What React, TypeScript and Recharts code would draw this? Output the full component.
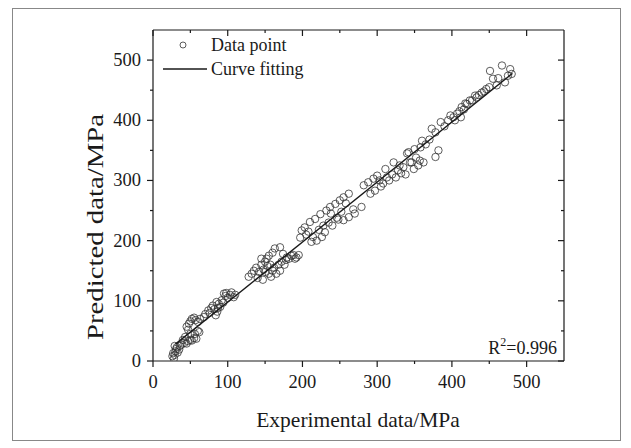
import React from 'react';
import { ScatterChart, Scatter, XAxis, YAxis, Legend, Customized } from 'recharts';

// experimental (x) vs predicted (y) strength, MPa
const expData = [
  26, 27, 28, 29, 30, 31, 29, 32, 33, 35, 36, 38,
  42, 45, 47, 50, 52, 55, 58, 56, 60, 62,
  45, 48, 50, 52, 55, 57, 60, 63, 47, 40, 43, 50,
  68, 70, 74, 76, 80, 82, 84, 86, 87, 88, 90, 92, 94, 95, 97, 98, 100, 103, 105, 108, 110, 78, 85,
  128, 132, 135, 138, 140, 142, 145, 147, 148, 150, 152, 153, 155, 155, 157, 158, 160, 162, 163, 165,
  168, 170, 170, 172, 174, 176, 178, 179, 182, 185, 188, 190, 192, 195, 145, 160, 150,
  197, 199, 203, 205, 208, 210, 212, 214, 217, 219, 222, 224, 226, 228, 230, 232, 235, 237, 240, 244,
  246, 250, 252, 255, 258, 262, 248, 238,
  255, 262, 270, 279, 268,
  282, 288, 291, 295, 297, 300, 303, 305, 308, 311, 313, 316, 320, 322, 325, 328, 330, 332, 335, 338,
  340, 342, 344, 346, 349, 352, 355, 357, 360, 362, 358, 350,
  378, 382,
  365, 370, 373, 378, 385, 390, 395, 398, 402, 404, 407, 410, 412, 413, 416, 418, 420, 424, 427, 431,
  433, 436, 440, 443, 446, 450, 455, 451, 460, 462, 467, 471, 475, 478, 480,
];
const predData = [
  8, 13, 4, 10, 16, 20, 25, 23, 14, 19, 25, 27,
  30, 29, 33, 35, 34, 38, 37, 45, 50, 48,
  57, 62, 66, 70, 72, 68, 65, 70, 52, 35, 40, 45,
  73, 78, 84, 80, 92, 86, 76, 82, 88, 95, 90, 101, 97, 112, 108, 113, 105, 110, 114, 106, 110, 88, 98,
  140, 145, 150, 155, 138, 148, 160, 135, 152, 165, 170, 158, 175, 145, 160, 140, 150, 155, 187, 145,
  160, 189, 150, 165, 178, 160, 168, 172, 170, 175, 176, 170, 172, 176, 170, 180, 148,
  205, 217, 222, 210, 215, 231, 198, 206, 236, 200, 218, 244, 206, 225, 214, 250, 230, 256, 225, 261,
  238, 267, 248, 272, 262, 278, 235, 245,
  234, 239, 245, 256, 252,
  292, 297, 278, 303, 283, 308, 300, 290, 295, 319, 305, 300, 310, 330, 305, 317, 325, 312, 322, 310,
  345, 347, 330, 330, 319, 338, 325, 333, 366, 330, 355, 352,
  339, 350,
  360, 368, 386, 380, 397, 390, 400, 408, 405, 400, 411, 415, 405, 422, 418, 428, 427, 433, 433, 441,
  438, 442, 446, 448, 452, 455, 469, 482, 458, 470, 491, 463, 474, 485, 477,
];

// fitted line end points
const fitX = [30, 481];
const fitY = [28, 478];

const axisTicks = [0, 50, 100, 150, 200, 250, 300, 350, 400, 450, 500];

const points = expData.map((x, i) => ({ x, y: predData[i] }));
const fitLine = fitX.map((x, i) => ({ x, y: fitY[i] }));

const FONT = '"Liberation Serif", "Times New Roman", serif';
const INK = '#1a1a1a';

const makeTick = (side: string) => (props: any) => {
  const { x, y, payload } = props;
  const v = payload.value;
  const major = v % 100 === 0;
  const len = major ? 6 : 3;
  if (side === 'bottom') {
    return (
      <g>
        <line x1={x} x2={x} y1={y} y2={y + len} stroke={INK} strokeWidth={1.2} />
        {major && (
          <text x={x} y={y + 27} textAnchor="middle" fontSize={18.5} fontFamily={FONT} fill={INK}>
            {v}
          </text>
        )}
      </g>
    );
  }
  if (side === 'left') {
    return (
      <g>
        <line x1={x} x2={x - len} y1={y} y2={y} stroke={INK} strokeWidth={1.2} />
        {major && (
          <text x={x - 12} y={y + 6} textAnchor="end" fontSize={18.5} fontFamily={FONT} fill={INK}>
            {v}
          </text>
        )}
      </g>
    );
  }
  if (side === 'top') {
    return <line x1={x} x2={x} y1={y} y2={y + len} stroke={INK} strokeWidth={1.2} />;
  }
  return <line x1={x} x2={x - len} y1={y} y2={y} stroke={INK} strokeWidth={1.2} />;
};

const OpenCircle = (props: any) => (
  <circle cx={props.cx} cy={props.cy} r={3.7} fill="none" stroke="#333" strokeWidth={0.8} />
);

const LegendBox = () => (
  <div style={{ position: 'relative', height: 0 }}>
    <svg width={160} height={90} style={{ position: 'absolute', left: 155, top: 25, overflow: 'visible' }}>
      <circle cx={28} cy={20} r={3} fill="none" stroke="#333" strokeWidth={0.8} />
      <text x={56} y={26} fontSize={18} fontFamily={FONT} fill={INK}>Data point</text>
      <line x1={8} x2={52} y1={44} y2={44} stroke={INK} strokeWidth={1.4} />
      <text x={56} y={50} fontSize={18} fontFamily={FONT} fill={INK}>Curve fitting</text>
    </svg>
  </div>
);

const Labels = () => (
  <g fontFamily={FONT} fill={INK}>
    <text x={358} y={427} textAnchor="middle" fontSize={21.5}>Experimental data/MPa</text>
    <text x={103} y={227} textAnchor="middle" fontSize={24} textLength={226} lengthAdjust="spacingAndGlyphs"
      transform="rotate(-90 103 227)">
      Predicted data/MPa
    </text>
    <text x={557} y={354} textAnchor="end" fontSize={18}>
      R<tspan fontSize={12} dy={-8}>2</tspan><tspan dy={8}>=0.996</tspan>
    </text>
  </g>
);

export default function App() {
  return (
    <div style={{ position: 'absolute', left: 0, top: 0, width: 631, height: 448, background: '#fff' }}>
      <div
        style={{
          position: 'absolute', left: 12, top: 8, width: 607, height: 431,
          border: '1px solid #888',
        }}
      />
      <ScatterChart width={631} height={448} margin={{ top: 20, right: 57, bottom: 57, left: 93 }}>
        <XAxis xAxisId="b" type="number" dataKey="x" orientation="bottom" domain={[0, 550]} ticks={axisTicks}
          height={30} tickSize={0} tickMargin={0} tickLine={false} interval={0} allowDataOverflow
          axisLine={{ stroke: INK, strokeWidth: 1.2 }} tick={makeTick('bottom')} />
        <XAxis xAxisId="t" type="number" dataKey="x" orientation="top" domain={[0, 550]} ticks={axisTicks}
          height={10} tickSize={0} tickMargin={0} tickLine={false} interval={0} allowDataOverflow
          axisLine={{ stroke: INK, strokeWidth: 1.2 }} tick={makeTick('top')} />
        <YAxis yAxisId="l" type="number" dataKey="y" orientation="left" domain={[0, 550]} ticks={axisTicks}
          width={60} tickSize={0} tickMargin={0} tickLine={false} interval={0} allowDataOverflow
          axisLine={{ stroke: INK, strokeWidth: 1.2 }} tick={makeTick('left')} />
        <YAxis yAxisId="r" type="number" dataKey="y" orientation="right" domain={[0, 550]} ticks={axisTicks}
          width={10} tickSize={0} tickMargin={0} tickLine={false} interval={0} allowDataOverflow
          axisLine={{ stroke: INK, strokeWidth: 1.2 }} tick={makeTick('right')} />
        <Scatter name="Data point" data={points} xAxisId="b" yAxisId="l" shape={OpenCircle} isAnimationActive={false} />
        <Scatter name="Curve fitting" data={fitLine} xAxisId="b" yAxisId="l" line={{ stroke: INK, strokeWidth: 1.4 }}
          shape={() => <g />} isAnimationActive={false} />
        <Legend content={() => <LegendBox />} layout="horizontal" verticalAlign="middle" align="center"
          wrapperStyle={{ left: 0, top: 0, width: 631, height: 0 }} />
        <Customized component={Labels} />
      </ScatterChart>
    </div>
  );
}
